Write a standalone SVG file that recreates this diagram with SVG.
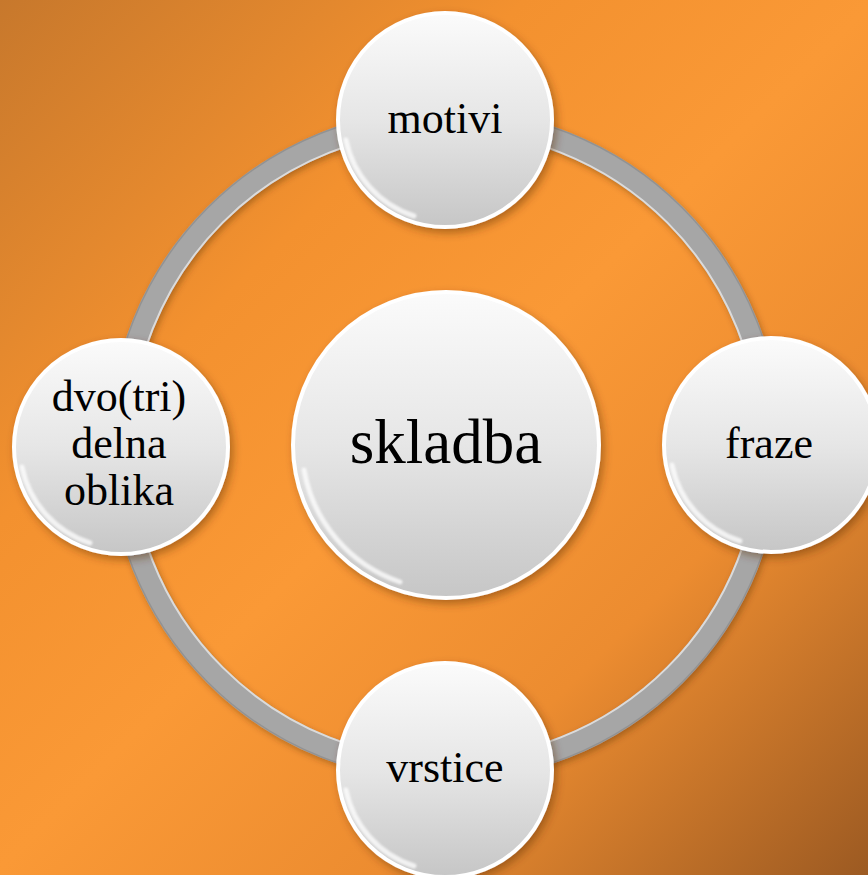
<svg xmlns="http://www.w3.org/2000/svg" width="868" height="875" viewBox="0 0 868 875">
<defs>
<linearGradient id="bg" x1="0" y1="0" x2="868" y2="875" gradientUnits="userSpaceOnUse">
<stop offset="0" stop-color="#C7782C"/>
<stop offset="0.3" stop-color="#F3912F"/>
<stop offset="0.5" stop-color="#FA9936"/>
<stop offset="0.72" stop-color="#EC8C30"/>
<stop offset="1" stop-color="#9C5A22"/>
</linearGradient>
<linearGradient id="ball" x1="0" y1="0" x2="0" y2="1">
<stop offset="0" stop-color="#FBFBFB"/>
<stop offset="0.5" stop-color="#E6E6E6"/>
<stop offset="1" stop-color="#C6C6C6"/>
</linearGradient>
<filter id="shadow" x="-20%" y="-20%" width="140%" height="140%">
<feDropShadow dx="3" dy="4" stdDeviation="4" flood-color="#5a2e00" flood-opacity="0.45"/>
</filter>
<filter id="rshadow" x="-10%" y="-10%" width="120%" height="120%">
<feDropShadow dx="2" dy="3" stdDeviation="3" flood-color="#5a2e00" flood-opacity="0.4"/>
</filter>
<filter id="soft" x="-20%" y="-20%" width="140%" height="140%">
<feGaussianBlur stdDeviation="1.2"/>
</filter>
</defs>
<style>
.node circle.b{fill:url(#ball);stroke:#FFFFFF;stroke-width:4;filter:url(#shadow);}
.node path.hl{fill:none;stroke:#FFFFFF;stroke-width:5;stroke-linecap:round;opacity:0.75;filter:url(#soft);}
.node text{font-family:"Liberation Serif","Times New Roman",serif;fill:#000;text-anchor:middle;}
</style>
<rect x="0" y="0" width="868" height="875" fill="url(#bg)"/>
<g id="connectors">
<circle cx="445" cy="445" r="325" fill="none" stroke="#A6A6A6" stroke-width="23" filter="url(#rshadow)"/>
<circle cx="445" cy="445" r="314.5" fill="none" stroke="#E8E8E8" stroke-width="2" opacity="0.8"/>
<circle cx="445" cy="445" r="335.5" fill="none" stroke="#8A8A8A" stroke-width="1.5" opacity="0.7"/>
</g>
<g id="node-center" class="node">
<circle class="b" cx="446" cy="445" r="153"/>
<path class="hl" d="M 304 470 A 145 145 0 0 0 400 582"/>
<text x="446" y="463" font-size="63">skladba</text>
</g>
<g id="node-motivi" class="node">
<circle class="b" cx="445" cy="120" r="107"/>
<path class="hl" d="M 346 140 A 101 101 0 0 0 414 216"/>
<text x="445" y="133" font-size="44">motivi</text>
</g>
<g id="node-fraze" class="node">
<circle class="b" cx="771" cy="445" r="107"/>
<path class="hl" d="M 672 465 A 101 101 0 0 0 740 541"/>
<text x="769" y="458" font-size="44">fraze</text>
</g>
<g id="node-vrstice" class="node">
<circle class="b" cx="445" cy="770" r="107"/>
<path class="hl" d="M 346 790 A 101 101 0 0 0 414 866"/>
<text x="445" y="782" font-size="44">vrstice</text>
</g>
<g id="node-oblika" class="node">
<circle class="b" cx="121" cy="447" r="107"/>
<path class="hl" d="M 22 467 A 101 101 0 0 0 90 543"/>
<text x="119" y="411" font-size="44">dvo(tri)</text>
<text x="119" y="458" font-size="44">delna</text>
<text x="119" y="505" font-size="44">oblika</text>
</g>
</svg>
